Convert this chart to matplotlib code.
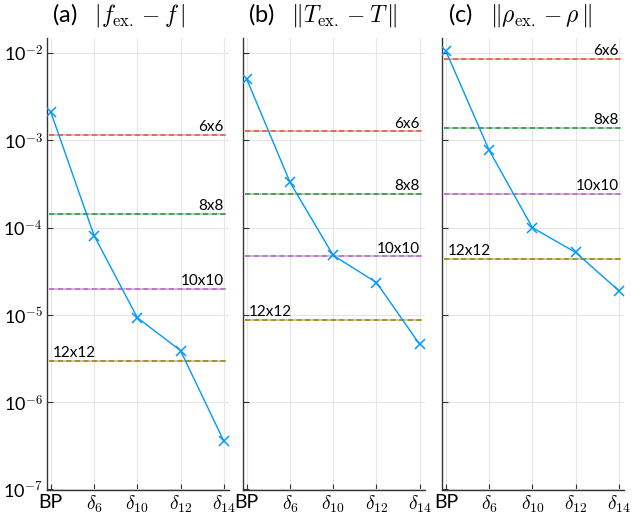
import numpy as np
import matplotlib
matplotlib.use('Agg')
from matplotlib import pyplot as plt

plt.rcParams['font.family'] = ['Lato', 'DejaVu Sans']
plt.rcParams['mathtext.fontset'] = 'cm'

methods = ['BP', r'$\delta_{6}$', r'$\delta_{10}$', r'$\delta_{12}$', r'$\delta_{14}$']

# error of each method, one list per quantity
err_f = [2.1e-3, 8.1e-5, 9.3e-6, 3.9e-6, 3.6e-7]
err_T = [5.0e-3, 3.3e-4, 4.8e-5, 2.35e-5, 4.6e-6]
err_rho = [1.05e-2, 7.7e-4, 1.0e-4, 5.2e-5, 1.9e-5]

# reference errors of the fixed grids
grids = ['6x6', '8x8', '10x10', '12x12']
grid_f = [1.15e-3, 1.45e-4, 2.0e-5, 2.95e-6]
grid_T = [1.27e-3, 2.45e-4, 4.7e-5, 8.8e-6]
grid_rho = [8.5e-3, 1.4e-3, 2.45e-4, 4.4e-5]

titles = [r'(a)   $|f_{\mathrm{ex.}} - f\,|$',
          r'(b)   $\Vert T_{\mathrm{ex.}} - T\,\Vert$',
          r'(c)   $\Vert \rho_{\mathrm{ex.}} - \rho\,\Vert$']

grid_colors = ['#E36F47', '#3EA44E', '#C371D2', '#AC8E18']

fig = plt.figure(figsize=(6.41, 5.17), dpi=100)
lefts = [0.0733, 0.379, 0.6896]
x = np.arange(len(methods))

for k, (err, gerr, title) in enumerate(zip([err_f, err_T, err_rho],
                                           [grid_f, grid_T, grid_rho], titles)):
    ax = fig.add_axes([lefts[k], 0.0522, 0.2845, 0.8743])
    ax.set_yscale('log')
    ax.set_xlim(-0.09, 4.13)
    ax.set_ylim(10 ** -7.006, 10 ** -1.828)

    for g, (name, val) in enumerate(zip(grids, gerr)):
        ax.plot([-0.05, 4.05], [val, val], ls=(0, (2.8, 1.6)), lw=1.4,
                color=grid_colors[g], gapcolor='#c4c4c4', zorder=2)
        if name == '12x12':
            ax.annotate(name, (0.05, val), xytext=(0, 0.5), textcoords='offset points',
                        ha='left', va='bottom', fontsize=11)
        else:
            ax.annotate(name, (4.0, val), xytext=(0, 0.5), textcoords='offset points',
                        ha='right', va='bottom', fontsize=11)

    ax.plot(x, err, color='#009AFA', lw=1, marker='x', ms=7, mew=1.1, zorder=3)

    ax.set_xticks(x)
    ax.set_xticklabels(methods, fontsize=14)
    ax.set_yticks([10.0 ** p for p in range(-7, -1)])
    ax.yaxis.set_minor_locator(matplotlib.ticker.NullLocator())
    if k == 0:
        ax.set_yticklabels([r'10$^{\mathsf{%d}}$' % p for p in range(-7, -1)], fontsize=13)
    else:
        ax.set_yticklabels([])

    ax.grid(True, color='#e6e6e6', lw=0.8)
    ax.set_axisbelow(True)
    for s in ['top', 'right']:
        ax.spines[s].set_visible(False)
    for s in ['left', 'bottom']:
        ax.spines[s].set_color('#333333')
        ax.spines[s].set_linewidth(1.0)
    ax.tick_params(direction='in', length=4, color='#333333', pad=3)

    ax.text(0.03, 1.02, title, transform=ax.transAxes, fontsize=17,
            ha='left', va='bottom')

fig.savefig('out.png', dpi=100)
